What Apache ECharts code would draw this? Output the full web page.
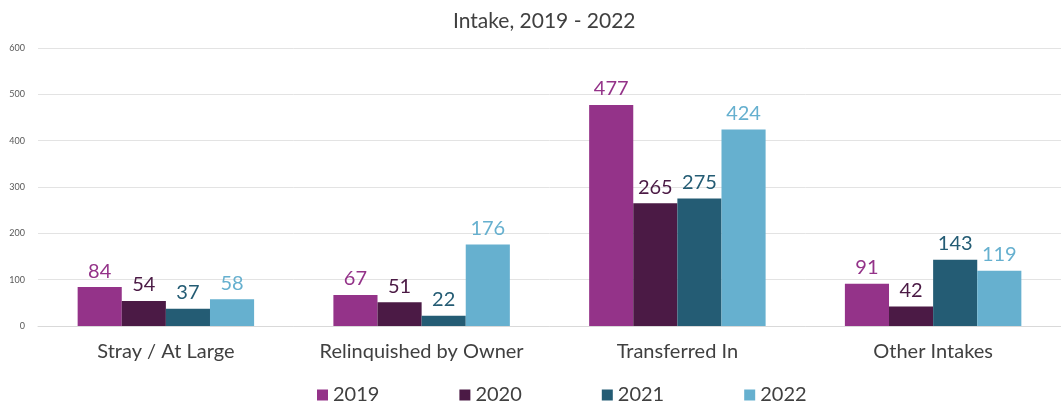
<!DOCTYPE html>
<html>
<head>
<meta charset="utf-8">
<script src="https://cdn.jsdelivr.net/npm/echarts@6/dist/echarts.min.js"></script>
<style>
  html, body { margin: 0; padding: 0; background: #fff; }
  #chart { width: 1061px; height: 403px; }
</style>
</head>
<body>
<div id="chart"></div>
<script>
// intake categories and yearly counts
const categories = ["Stray / At Large", "Relinquished by Owner", "Transferred In", "Other Intakes"];
const years = ["2019", "2020", "2021", "2022"];
const values2019 = [84, 67, 477, 91];
const values2020 = [54, 51, 265, 42];
const values2021 = [37, 22, 275, 143];
const values2022 = [58, 176, 424, 119];
const colors = ["#943389", "#4b1a45", "#245c74", "#66b0cf"];

const font = "Lato, 'Open Sans', sans-serif";
const seriesData = [values2019, values2020, values2021, values2022];

const chart = echarts.init(document.getElementById("chart"));
chart.setOption({
  backgroundColor: "#fff",
  animation: false,
  color: colors,
  title: {
    text: "Intake, 2019 - 2022",
    left: 448,
    top: 6,
    textStyle: { color: "#404040", fontSize: 21, fontWeight: "normal", fontFamily: font },
  },
  grid: {
    left: 38,
    right: 0,
    top: 48,
    bottom: 77,
  },
  legend: {
    left: 312,
    top: 380,
    itemWidth: 11,
    itemHeight: 11,
    itemGap: 80,
    icon: "rect",
    textStyle: { color: "#404040", fontSize: 20, fontFamily: font },
    data: years,
  },
  xAxis: {
    type: "category",
    data: categories,
    axisLine: { lineStyle: { color: "#d9d9d9" } },
    axisTick: { show: false },
    axisLabel: { color: "#404040", fontSize: 20, fontFamily: font, margin: 16, interval: 0 },
  },
  yAxis: {
    type: "value",
    min: 0,
    max: 600,
    interval: 100,
    axisLine: { show: false },
    axisTick: { show: false },
    splitLine: { lineStyle: { color: "#e3e3e3" } },
    axisLabel: { color: "#595959", fontSize: 9, fontFamily: font, margin: 13 },
  },
  series: years.map((y, i) => ({
    name: y,
    type: "bar",
    data: seriesData[i],
    barGap: "0%",
    barCategoryGap: "31%",
    itemStyle: { color: colors[i] },
    label: {
      show: true,
      position: "top",
      distance: 6,
      color: colors[i],
      fontSize: 20,
      fontFamily: font,
    },
  })),
});
</script>
</body>
</html>
